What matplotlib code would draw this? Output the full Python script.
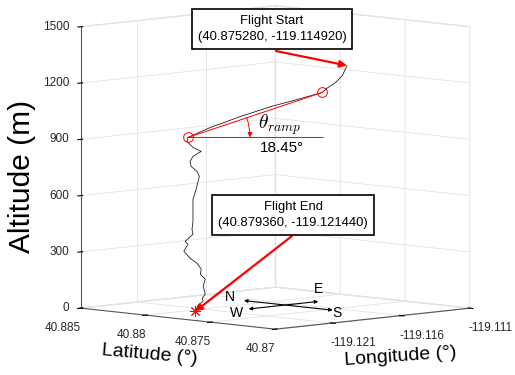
import numpy as np
import matplotlib
matplotlib.use("Agg")
import matplotlib.pyplot as plt
from mpl_toolkits.mplot3d import proj3d

plt.rcParams['font.family'] = ['Liberation Sans', 'DejaVu Sans']
plt.rcParams['grid.color'] = '#e3e3e3'
plt.rcParams['grid.linewidth'] = 0.6

# flight track, from start to end
lat = [40.87528, 40.87540, 40.87558, 40.87582, 40.87593, 40.87648, 40.87728,
       40.87807, 40.87887, 40.87945, 40.87945, 40.87945, 40.87945, 40.87945,
       40.87945, 40.87945, 40.87945, 40.87945, 40.87945, 40.87945, 40.87945,
       40.87945, 40.87945, 40.87945, 40.87945, 40.87945, 40.87945, 40.87945,
       40.87945, 40.87945, 40.87945, 40.87945, 40.87945, 40.87945, 40.87945,
       40.87945, 40.87945, 40.87945]
lon = [-119.11495, -119.11517, -119.11550, -119.11593, -119.11613, -119.11715,
       -119.11860, -119.12005, -119.12149, -119.12256, -119.12263, -119.12220,
       -119.12160, -119.12220, -119.12241, -119.12234, -119.12190, -119.12174,
       -119.12197, -119.12220, -119.12220, -119.12220, -119.12227, -119.12220,
       -119.12277, -119.12256, -119.12286, -119.12241, -119.12190, -119.12160,
       -119.12167, -119.12131, -119.12146, -119.12131, -119.12153, -119.12146,
       -119.12183, -119.12204]
alt = [1285, 1232, 1196, 1166, 1146, 1118, 1080, 1033, 980, 931, 910, 875,
       849, 827, 802, 775, 745, 717, 650, 598, 545, 481, 439, 412, 379, 362,
       327, 286, 255, 221, 195, 166, 130, 86, 66, 50, 31, 0]

ramp_top = 4      # index of upper circle
ramp_bottom = 9   # index of lower circle
ramp_ref_end = (-119.11766, 40.87423)   # end of horizontal reference line

lat_lim = (40.87, 40.885)
lon_lim = (-119.1251, -119.111)
alt_lim = (0, 1500)
lat_ticks = [40.87, 40.875, 40.88, 40.885]
lat_labels = ['40.87', '40.875', '40.88', '40.885']
lon_ticks = [-119.121, -119.116, -119.111]
lon_labels = ['-119.121', '-119.116', '-119.111']
alt_ticks = [0, 300, 600, 900, 1200, 1500]

start_text = 'Flight Start\n(40.875280, -119.114920)'
end_text = 'Flight End\n(40.879360, -119.121440)'

# compass arrows on the ground (lon, lat)
compass_ns = [(-119.11664, 40.88143), (-119.11664, 40.87459)]
compass_we = [(-119.11929, 40.87825), (-119.11424, 40.87825)]

fig = plt.figure(figsize=(5.15, 3.75), dpi=100)
ax = fig.add_axes([0.025, 0.04, 1.0, 1.0], projection='3d', proj_type='ortho')
ax.view_init(elev=6.2, azim=225)
ax.set_box_aspect((1, 1, 1.03), zoom=1.245)

ax.plot(lon, lat, alt, color='#222222', lw=0.6)
ax.plot([lon[ramp_bottom], lon[ramp_top]], [lat[ramp_bottom], lat[ramp_top]],
        [alt[ramp_bottom], alt[ramp_top]], color='red', lw=0.7)
ax.plot([lon[ramp_bottom], ramp_ref_end[0]], [lat[ramp_bottom], ramp_ref_end[1]],
        [alt[ramp_bottom], alt[ramp_bottom]], color='red', lw=0.7)
ax.plot([lon[ramp_top], lon[ramp_bottom]], [lat[ramp_top], lat[ramp_bottom]],
        [alt[ramp_top], alt[ramp_bottom]], 'o', mfc='none', mec='red', ms=7, mew=0.7)
ax.plot([lon[-1]], [lat[-1]], [alt[-1]], marker=(8, 2, 0), color='red', ms=8, mew=0.7)

ax.set_xlim(*lon_lim)
ax.set_ylim(*lat_lim)
ax.set_zlim(*alt_lim)
ax.set_xticks(lon_ticks)
ax.set_yticks(lat_ticks)
ax.set_zticks(alt_ticks)
ax.set_xticklabels([])
ax.set_yticklabels([])
ax.set_zticklabels([])

for a in (ax.xaxis, ax.yaxis, ax.zaxis):
    a.set_pane_color((1, 1, 1, 1))
    a.pane.set_edgecolor('#e3e3e3')
    a.line.set_color('#555555')
    a.line.set_linewidth(0.8)

fig.canvas.draw()
M = ax.get_proj()


def to_px(lo, la, z):
    x2, y2, _ = proj3d.proj_transform(lo, la, z, M)
    return tuple(ax.transData.transform((x2, y2)))


H = 375
tick_style = dict(xycoords='figure pixels', textcoords='offset pixels',
                  fontsize=8.5, color='#262626', va='center')

# tick labels placed at the projected tick positions
for v, s in zip(alt_ticks, [str(t) for t in alt_ticks]):
    ax.annotate(s, xy=to_px(lon_lim[0], lat_lim[1], v), xytext=(-12, 0), ha='right', **tick_style)
for v, s in zip(lat_ticks, lat_labels):
    ax.annotate(s, xy=to_px(lon_lim[0], v, 0), xytext=(0, -20), ha='right', **tick_style)
for v, s in zip(lon_ticks, lon_labels):
    ax.annotate(s, xy=to_px(v, lat_lim[0], 0), xytext=(-1, -20), ha='left', **tick_style)

fig.text(22 / 515, 1 - 176 / H, 'Altitude (m)', fontsize=21.5, rotation=90,
         ha='center', va='center')
fig.text(150 / 515, 1 - 355 / H, 'Latitude (°)', fontsize=14, rotation=-5,
         ha='center', va='center', rotation_mode='anchor')
fig.text(400 / 515, 1 - 357 / H, 'Longitude (°)', fontsize=14, rotation=4,
         ha='center', va='center', rotation_mode='anchor')

# annotation boxes with arrows
box = dict(boxstyle='square,pad=0.45', fc='white', ec='black', lw=1.2)
arrow = dict(arrowstyle='-|>', color='red', lw=1.6, mutation_scale=10, shrinkA=0, shrinkB=0)

ax.annotate('', xy=to_px(lon[0], lat[0], alt[0]), xycoords='figure pixels',
            xytext=(276, H - 51), textcoords='figure pixels', arrowprops=arrow)
ax.annotate('', xy=to_px(lon[-1], lat[-1], alt[-1]), xycoords='figure pixels',
            xytext=(292, H - 236), textcoords='figure pixels', arrowprops=arrow)
fig.text(272 / 515, 1 - 29 / H, start_text, fontsize=9.4, linespacing=1.4,
         ha='center', va='center', bbox=box)
fig.text(293 / 515, 1 - 215 / H, end_text, fontsize=9.4, linespacing=1.4,
         ha='center', va='center', bbox=box)

# compass
cp = dict(arrowstyle='<|-|>', color='black', lw=0.8, mutation_scale=5, shrinkA=0, shrinkB=0)
for a, b in (compass_ns, compass_we):
    ax.annotate('', xy=to_px(a[0], a[1], 0), xycoords='figure pixels',
                xytext=to_px(b[0], b[1], 0), textcoords='figure pixels', arrowprops=cp)
for (lo, la), name, off in ((compass_ns[0], 'N', (-14, 4)), (compass_ns[1], 'S', (4, -3)),
                            (compass_we[0], 'W', (-12, -4)), (compass_we[1], 'E', (0, 12))):
    ax.annotate(name, xy=to_px(lo, la, 0), xycoords='figure pixels', xytext=off,
                textcoords='offset pixels', fontsize=10, ha='center', va='center')

# ramp angle arc, centred on the lower circle
pa = np.array(to_px(lon[ramp_bottom], lat[ramp_bottom], alt[ramp_bottom]))
pb = np.array(to_px(lon[ramp_top], lat[ramp_top], alt[ramp_top]))
ang = np.arctan2(pb[1] - pa[1], pb[0] - pa[0])
r = 62
ax.annotate('', xy=tuple(pa + [r, 0]), xycoords='figure pixels',
            xytext=tuple(pa + r * np.array([np.cos(ang), np.sin(ang)])),
            textcoords='figure pixels',
            arrowprops=dict(arrowstyle='-|>', color='red', lw=0.7, mutation_scale=7,
                            shrinkA=0, shrinkB=0, connectionstyle='arc3,rad=-0.08'))
fig.text(280 / 515, 1 - 125 / H, r'$\theta_{ramp}$', fontsize=14, ha='center',
         va='center', math_fontfamily='cm')
fig.text(282 / 515, 1 - 148 / H, '18.45°', fontsize=11, ha='center', va='center')

fig.savefig('out.png', dpi=100)
